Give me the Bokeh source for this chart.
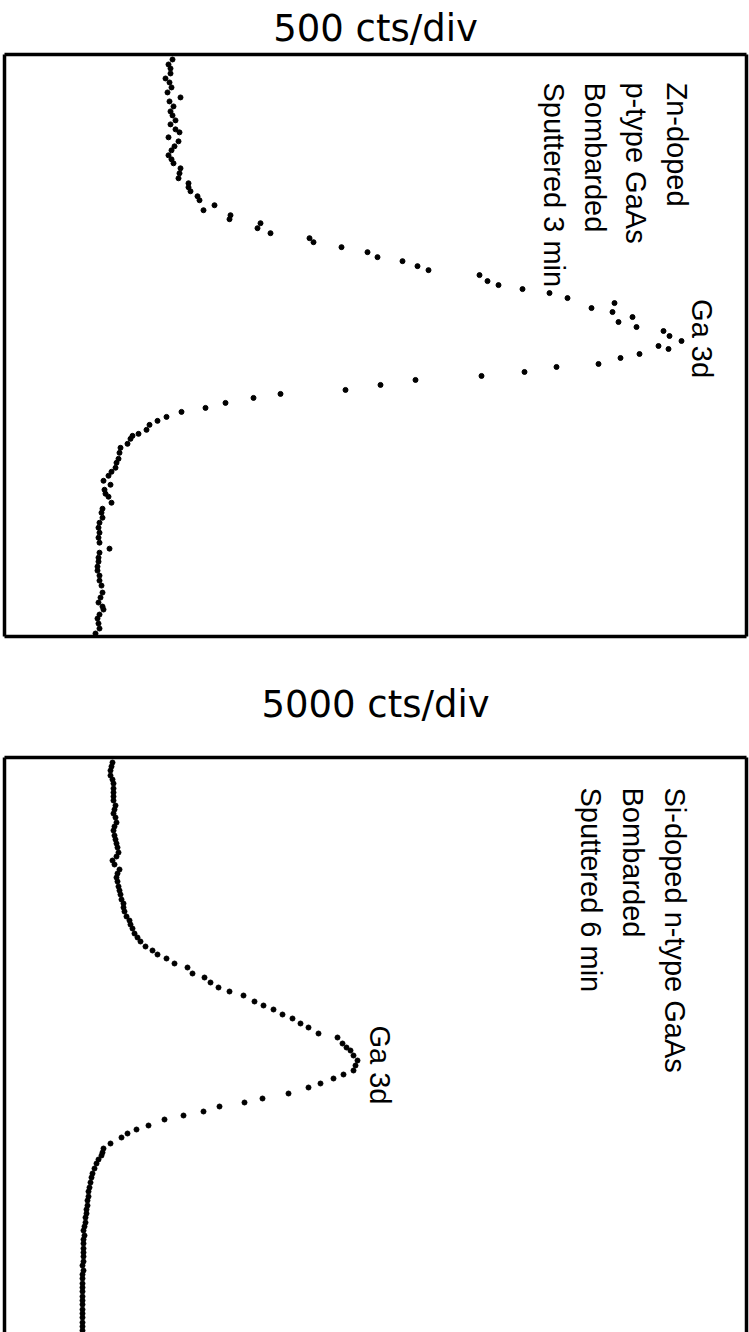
import numpy as np
from bokeh.plotting import figure
from bokeh.models import LinearAxis, FixedTicker, Range1d
from bokeh.layouts import column
from bokeh.core.properties import value
from bokeh.embed import file_html
from bokeh.resources import INLINE

# ---------------- data (energy channel runs downward, counts to the right) ----------------
top_channel = [5, 10, 14, 19, 24, 28, 33, 38, 43, 47, 52, 57, 61, 66, 70, 75, 78, 83, 87, 92,
               96, 101, 105, 109, 114, 119, 124, 129, 133, 137, 142, 146, 151, 156, 161, 165, 169, 174, 179, 184,
               188, 193, 198, 203, 207, 212, 216, 221, 227, 231, 235, 239, 244, 249, 254, 258, 263, 268, 273, 277,
               282, 287, 292, 295, 300, 304, 310, 313, 318, 322, 326, 331, 336, 340, 344, 349, 354, 358, 363, 367,
               371, 376, 380, 382, 385, 390, 394, 399, 405, 409, 414, 418, 422, 427, 431, 436, 440, 443, 449, 455,
               459, 464, 469, 474, 479, 484, 489, 495, 499, 504, 508, 513, 517, 522, 527, 532, 539, 544, 549, 553,
               556, 561, 565, 570, 575, 580]
top_counts = [168, 164, 166, 166, 161, 165, 167, 163, 176, 165, 169, 166, 168, 171, 166, 171, 175, 164, 174, 170,
              167, 164, 167, 169, 176, 175, 174, 184, 184, 186, 193, 195, 210, 199, 226, 225, 256, 253, 266, 305,
              309, 337, 363, 373, 398, 413, 424, 475, 483, 494, 518, 545, 563, 610, 587, 608, 628, 614, 632, 659,
              665, 677, 654, 664, 635, 616, 594, 552, 520, 477, 411, 376, 341, 276, 249, 221, 201, 177, 162, 153,
              145, 142, 134, 128, 126, 123, 116, 115, 114, 112, 111, 107, 104, 99, 106, 100, 101, 104, 107, 98,
              97, 98, 95, 94, 95, 94, 95, 105, 95, 94, 94, 93, 93, 95, 95, 97, 98, 96, 94, 98,
              99, 95, 93, 94, 95, 91]

bottom_channel = [5, 9, 13, 18, 22, 26, 31, 35, 39, 43, 48, 52, 56, 60, 65, 69, 73, 78, 82, 86,
                  90, 95, 99, 103, 107, 112, 116, 120, 124, 129, 133, 137, 142, 146, 150, 154, 159, 163, 167, 171,
                  176, 180, 184, 189, 193, 197, 201, 206, 210, 216, 220, 225, 230, 234, 238, 244, 248, 252, 257, 261,
                  266, 270, 276, 280, 286, 290, 293, 298, 303, 308, 313, 317, 321, 326, 330, 336, 341, 345, 349, 354,
                  358, 362, 368, 372, 376, 380, 386, 391, 395, 398, 402, 406, 411, 416, 420, 425, 430, 434, 439, 443,
                  448, 452, 456, 460, 465, 469, 473, 478, 482, 486, 491, 495, 499, 504, 508, 513, 517, 521, 526, 530,
                  534, 539, 543, 547, 552, 556, 560, 565, 569, 573]
bottom_counts = [108, 107, 106, 106, 108, 109, 109, 109, 109, 109, 111, 110, 109, 111, 112, 110, 109, 110, 111, 112,
                 113, 114, 112, 108, 110, 115, 113, 112, 113, 114, 115, 116, 117, 119, 119, 120, 122, 125, 126, 128,
                 130, 133, 136, 141, 148, 153, 162, 170, 183, 188, 200, 206, 214, 225, 239, 250, 259, 269, 278, 288,
                 296, 304, 314, 333, 338, 342, 346, 349, 353, 351, 349, 339, 329, 316, 304, 284, 258, 240, 215, 199,
                 179, 160, 144, 132, 123, 117, 106, 99, 98, 97, 94, 92, 90, 88, 87, 86, 85, 84, 84, 83,
                 83, 82, 82, 81, 81, 80, 79, 80, 79, 79, 79, 79, 79, 79, 78, 79, 78, 78, 78, 78,
                 78, 78, 78, 78, 78, 78, 78, 78, 78, 78]

top_title = "500 cts/div"
bottom_title = "5000 cts/div"
top_labels = ["Zn-doped", "p-type GaAs", "Bombarded", "Sputtered 3 min"]
bottom_labels = ["Si-doped n-type GaAs", "Bombarded", "Sputtered 6 min"]
peak_label = "Ga 3d"

# ---------------- layout constants ----------------
W = 749
TOP_H = 646
BOT_H = 1332 - TOP_H
TEXT_FONT = "Liberation Sans"
TITLE_FONT = "DejaVu Sans"


def make_panel(title, height, border_top, border_bottom, y_extent, sides, standoff):
    p = figure(width=W, height=height, title=title,
               x_range=Range1d(0, 742), y_range=Range1d(y_extent, 0),
               output_backend="svg", toolbar_location=None,
               x_axis_location=None, y_axis_location=None,
               min_border_left=4, min_border_right=3,
               min_border_top=border_top, min_border_bottom=border_bottom,
               outline_line_color=None,
               background_fill_color="white", border_fill_color="white")
    p.grid.visible = False
    for side in sides:
        ax = LinearAxis(ticker=FixedTicker(ticks=[]), axis_line_width=3.5, axis_line_color="black",
                        major_tick_line_color=None, minor_tick_line_color=None,
                        major_label_text_font_size="0px", major_tick_out=0, major_tick_in=0,
                        major_label_standoff=0, axis_label=None)
        p.add_layout(ax, side)
    p.title.align = "center"
    p.title.text_font = TITLE_FONT
    p.title.text_font_size = "37px"
    p.title.text_font_style = "normal"
    p.title.text_color = "black"
    p.title.standoff = standoff
    return p


def add_text(p, xs, ys, texts):
    p.text(x=xs, y=ys, text=texts,
           angle=-np.pi / 2, text_font=value(TEXT_FONT), text_font_size=value("29px"),
           text_align="left", text_baseline="alphabetic", text_color="black")


p1 = make_panel(top_title, TOP_H, 53, 10, 583, ["left", "right", "above", "below"], 9)
p1.scatter(top_counts, top_channel, size=5, color="black", marker="circle")
add_text(p1, [672, 631, 590, 549], [28, 28, 28, 28], top_labels)
add_text(p1, [697], [245], [peak_label])

p2 = make_panel(bottom_title, BOT_H, 111, 0, 575, ["left", "right", "above"], 64)
p2.scatter(bottom_counts, bottom_channel, size=5, color="black", marker="circle")
add_text(p2, [670, 628, 586], [30, 30, 30], bottom_labels)
add_text(p2, [375], [268], [peak_label])

layout = column(p1, p2, spacing=0)
open("out.html", "w").write(file_html(layout, INLINE))
